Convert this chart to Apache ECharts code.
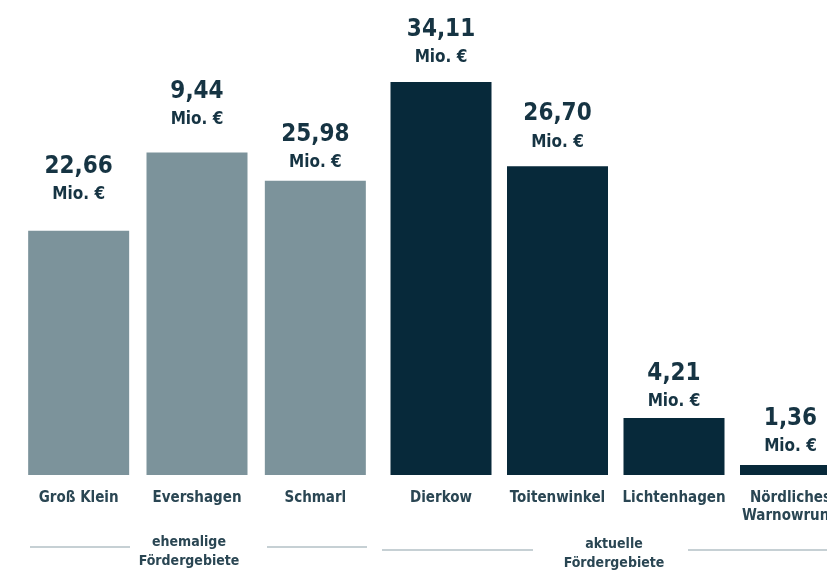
<!DOCTYPE html>
<html>
<head>
<meta charset="utf-8">
<script src="https://cdn.jsdelivr.net/npm/echarts@6/dist/echarts.min.js"></script>
<style>
html,body{margin:0;padding:0;background:#fff;}
#c{width:827px;height:575px;}
</style>
</head>
<body>
<div id="c"></div>
<script>
// Categories
const catsFormer = ['Groß Klein', 'Evershagen', 'Schmarl'];
const catsCurrent = ['Dierkow', 'Toitenwinkel', 'Lichtenhagen', 'Nördliches\nWarnowrund'];
// Bar heights (Mio. €)
const valuesFormer = [21.2, 28.0, 25.55];
const valuesCurrent = [34.11, 26.8, 4.95, 0.87];
// Value labels printed above the bars
const labelsFormer = ['22,66', '9,44', '25,98'];
const labelsCurrent = ['34,11', '26,70', '4,21', '1,36'];
const unitText = 'Mio. €';
const groupFormer = 'ehemalige\nFördergebiete';
const groupCurrent = 'aktuelle\nFördergebiete';

// styling
const FONT = '"DejaVu Sans Condensed", "Liberation Sans Narrow", sans-serif';
const labelDistFormer = [24, 21, 6];
const labelDistCurrent = [12, 12, 4, 6];
const TXT = '#163443';
const CAT = '#2a4653';

function makeData(vals, dists) {
  return vals.map((v, i) => ({ value: v, label: { distance: dists[i] } }));
}
function valueLabel(texts) {
  return {
    show: true,
    position: 'top',
    formatter: p => '{v|' + texts[p.dataIndex] + '}\n{u|' + unitText + '}',
    rich: {
      v: { fontFamily: FONT, fontWeight: 'bold', fontSize: 24, lineHeight: 32, color: TXT, align: 'center' },
      u: { fontFamily: FONT, fontWeight: 'bold', fontSize: 17, lineHeight: 24, color: TXT, align: 'center' }
    }
  };
}
const catAxisBase = {
  type: 'category',
  axisLine: { show: false },
  axisTick: { show: false },
  axisLabel: { interval: 0, margin: 14, fontFamily: FONT, fontWeight: 'bold', fontSize: 15, lineHeight: 18, color: CAT }
};

const chart = echarts.init(document.getElementById('c'), null, { renderer: 'canvas' });
chart.setOption({
  animation: false,
  backgroundColor: '#ffffff',
  grid: [
    { left: 19.5, width: 355, top: 14.2, height: 460.8, containLabel: false, outerBoundsMode: 'none' },
    { left: 382.75, width: 466, top: 14.2, height: 460.8, containLabel: false, outerBoundsMode: 'none' }
  ],
  xAxis: [
    Object.assign({ gridIndex: 0, data: catsFormer }, catAxisBase),
    Object.assign({ gridIndex: 1, data: catsCurrent }, catAxisBase)
  ],
  yAxis: [
    { gridIndex: 0, type: 'value', min: 0, max: 40, show: false, splitLine: { show: false } },
    { gridIndex: 1, type: 'value', min: 0, max: 40, show: false, splitLine: { show: false } }
  ],
  series: [
    {
      type: 'bar', xAxisIndex: 0, yAxisIndex: 0, barWidth: 101,
      itemStyle: { color: '#7c939b' },
      data: makeData(valuesFormer, labelDistFormer),
      label: valueLabel(labelsFormer)
    },
    {
      type: 'bar', xAxisIndex: 1, yAxisIndex: 1, barWidth: 101,
      itemStyle: { color: '#07293a' },
      data: makeData(valuesCurrent, labelDistCurrent),
      label: valueLabel(labelsCurrent)
    }
  ],
  graphic: [
    { type: 'line', shape: { x1: 30, y1: 547, x2: 130, y2: 547 }, style: { stroke: '#c6d0d4', lineWidth: 2 } },
    { type: 'line', shape: { x1: 267, y1: 547, x2: 367, y2: 547 }, style: { stroke: '#c6d0d4', lineWidth: 2 } },
    { type: 'line', shape: { x1: 382, y1: 550, x2: 533, y2: 550 }, style: { stroke: '#c6d0d4', lineWidth: 2 } },
    { type: 'line', shape: { x1: 688, y1: 550, x2: 830, y2: 550 }, style: { stroke: '#c6d0d4', lineWidth: 2 } },
    { type: 'text', x: 189, y: 552, style: { text: groupFormer, fontFamily: FONT, fontWeight: 'bold', fontSize: 14, lineHeight: 19, fill: CAT, align: 'center', verticalAlign: 'middle' } },
    { type: 'text', x: 614, y: 554, style: { text: groupCurrent, fontFamily: FONT, fontWeight: 'bold', fontSize: 14, lineHeight: 19, fill: CAT, align: 'center', verticalAlign: 'middle' } }
  ]
});
</script>
</body>
</html>
